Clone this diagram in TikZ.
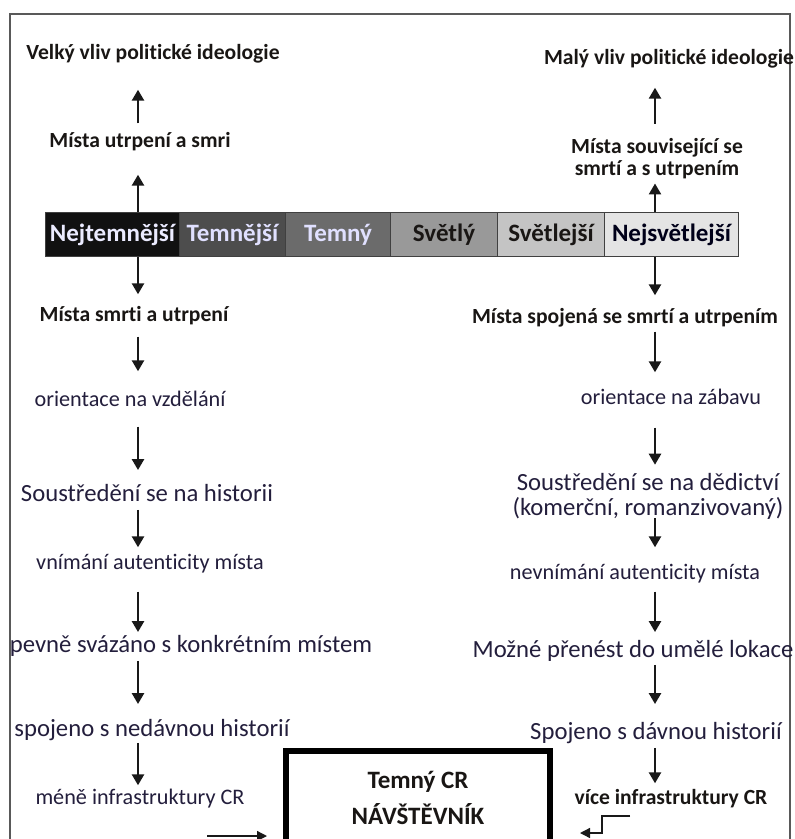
\documentclass[tikz,border=0pt]{standalone}
\usepackage{fontspec}
\setmainfont{Carlito}[Ligatures=NoCommon]
\usetikzlibrary{arrows.meta}
\definecolor{txt}{RGB}{35,30,60}
\definecolor{bld}{RGB}{25,22,20}
\definecolor{s1}{RGB}{17,17,17}
\definecolor{s2}{RGB}{77,77,77}
\definecolor{s3}{RGB}{107,107,107}
\definecolor{s4}{RGB}{153,153,153}
\definecolor{s5}{RGB}{196,196,196}
\definecolor{s6}{RGB}{228,228,228}
\begin{document}
\begin{tikzpicture}[x=1pt,y=-1pt,
  bh/.style={font=\fontsize{21.6}{22}\selectfont\bfseries, text=bld, inner sep=0pt, text height=0.95em, text depth=0.05em},
  sm/.style={font=\fontsize{22.2}{23}\selectfont, text=txt, inner sep=0pt, text height=0.95em, text depth=0.05em},
  lg/.style={font=\fontsize{24.7}{25}\selectfont, text=txt, inner sep=0pt, text height=0.95em, text depth=0.05em},
  seg/.style={draw=black!75, line width=1pt, minimum height=44pt, inner sep=0pt, anchor=north west, font=\fontsize{25}{26}\selectfont\bfseries},
  arr/.style={-{Triangle[length=11pt,width=12pt]}, line width=2.5pt, draw=black!90},
  thinarr/.style={-{Triangle[length=10pt,width=10pt]}, line width=1.3pt, draw=black!90},
  frame/.style={draw=black!65, line width=1.8pt}
]
\useasboundingbox (0,0) rectangle (795,839);
% frame
\draw[frame] (10,845) -- (10,14) -- (790,14) -- (790,845);

% bar
\node[seg, fill=s1, minimum width=134pt, text=white!92!blue] (b1) at (45,212) {Nejtemnější};
\node[seg, fill=s2, minimum width=106pt, text=white!88!blue] (b2) at (179,212) {Temnější};
\node[seg, fill=s3, minimum width=105pt, text=white!88!blue] (b3) at (285,212) {Temný};
\node[seg, fill=s4, minimum width=107pt, text=bld] (b4) at (390,212) {Světlý};
\node[seg, fill=s5, minimum width=107pt, text=bld] (b5) at (497,212) {Světlejší};
\node[seg, fill=s6, minimum width=134pt, text=black!90!blue] (b6) at (604,212) {Nejsvětlejší};

\coordinate (lc) at (138,0);
\coordinate (rc) at (655,0);

% left column
\node[bh] (l0) at (153,55) {Velký vliv politické ideologie};
\node[bh] (l1) at (140,143) {Místa utrpení a smri};
\node[bh] (l2) at (134,317) {Místa smrti a utrpení};
\node[sm] (l3) at (130,402) {orientace na vzdělání};
\node[lg] (l4) at (147,497) {Soustředění se na historii};
\node[sm] (l5) at (150,565) {vnímání autenticity místa};
\node[lg] (l6) at (191,648) {pevně svázáno s konkrétním místem};
\node[lg] (l7) at (152,732) {spojeno s nedávnou historií};
\node[sm] (l8) at (140,800) {méně infrastruktury CR};

\draw[arr, shorten <=14.5pt, shorten >=29.5pt] (l1.north -| lc) -- (l0.south -| lc);
\draw[arr, shorten >=26.5pt] (b1.north -| lc) -- (l1.south -| lc);
\draw[arr, shorten >=17.5pt] (b1.south -| lc) -- (l2.north -| lc);
\draw[arr, shorten <=14.5pt, shorten >=25.5pt] (l2.south -| lc) -- (l3.north -| lc);
\draw[arr, shorten <=19.5pt, shorten >=21.75pt] (l3.south -| lc) -- (l4.north -| lc);
\draw[arr, shorten <=7.75pt, shorten >=12.5pt] (l4.south -| lc) -- (l5.north -| lc);
\draw[arr, shorten <=21.5pt, shorten >=10.75pt] (l5.south -| lc) -- (l6.north -| lc);
\draw[arr, shorten <=7.75pt, shorten >=22.75pt] (l6.south -| lc) -- (l7.north -| lc);
\draw[arr, shorten <=5.75pt, shorten >=9.5pt] (l7.south -| lc) -- (l8.north -| lc);

% right column
\node[bh] (r0) at (669,60) {Malý vliv politické ideologie};
\node[font=\fontsize{21.6}{22}\selectfont\bfseries, text=bld, inner sep=0pt, align=center] (r1) at (657,158.5) {Místa související se\\smrtí a s utrpením};
\node[bh] (r2) at (625,319) {Místa spojená se smrtí a utrpením};
\node[sm] (r3) at (671,400) {orientace na zábavu};
\node[font=\fontsize{24.7}{25}\selectfont, text=txt, inner sep=0pt, align=center] (r4) at (648,496) {Soustředění se na dědictví\\(komerční, romanzivovaný)};
\node[sm] (r5) at (635,575) {nevnímání autenticity místa};
\node[lg] (r6) at (633,653) {Možné přenést do umělé lokace};
\node[lg] (r7) at (656,735) {Spojeno s dávnou historií};
\node[bh] (r8) at (671,800) {více infrastruktury CR};

\draw[arr, shorten <=14.5pt, shorten >=22.5pt] (r1.north -| rc) -- (r0.south -| rc);
\draw[arr, shorten >=4.5pt] (b6.north -| rc) -- (r1.south -| rc);
\draw[arr, shorten >=18.5pt] (b6.south -| rc) -- (r2.north -| rc);
\draw[arr, shorten <=7.5pt, shorten >=22.5pt] (r2.south -| rc) -- (r3.north -| rc);
\draw[arr, shorten <=22.5pt, shorten >=8pt] (r3.south -| rc) -- (r4.north -| rc);
\draw[arr, shorten <=-1pt, shorten >=22.5pt] (r4.south -| rc) -- (r5.north -| rc);
\draw[arr, shorten <=11.5pt, shorten >=15.75pt] (r5.south -| rc) -- (r6.north -| rc);
\draw[arr, shorten <=6.75pt, shorten >=25.75pt] (r6.south -| rc) -- (r7.north -| rc);
\draw[arr, shorten <=7.75pt, shorten >=11.5pt] (r7.south -| rc) -- (r8.north -| rc);

% visitor box
\node[draw=black, line width=6pt, minimum width=264pt, minimum height=94pt, inner sep=0pt, align=center,
      font=\fontsize{25}{36}\selectfont\bfseries, text=bld] (vis) at (418,798) {Temný CR\\NÁVŠTĚVNÍK};

\coordinate (lin) at (207,836);
\coordinate (rin) at (630,816);
\draw[thinarr, shorten >=16pt] (lin) -- (lin -| vis.west);
\draw[thinarr, shorten >=27pt] (rin) -- ++(-28,0) -- ++(0,17) coordinate (rk) -- (rk -| vis.east);
\end{tikzpicture}
\end{document}
